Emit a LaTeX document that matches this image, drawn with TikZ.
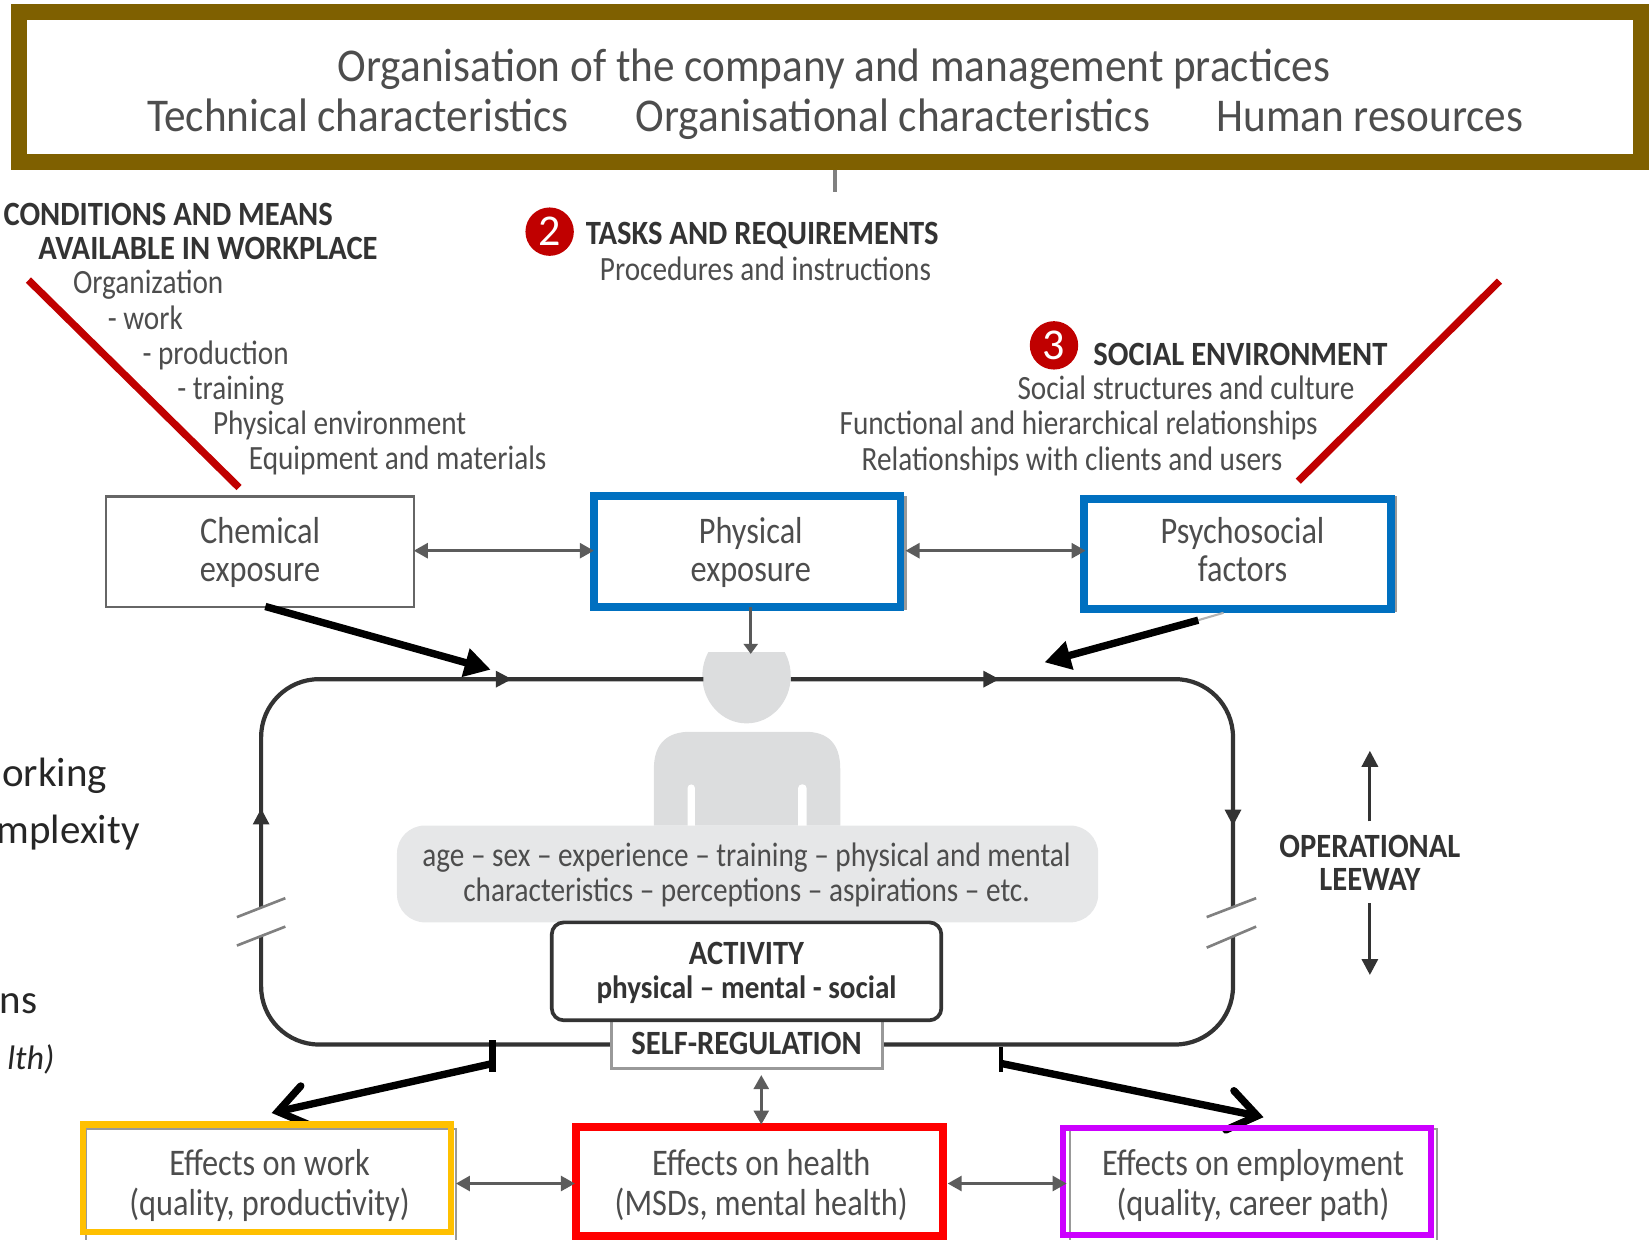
\documentclass[tikz,border=0pt]{standalone}
\usepackage{fontspec}
\setmainfont{Carlito}
\newfontfamily\cond[FakeStretch=0.86]{Carlito}
\newfontfamily\condb[FakeStretch=0.90]{Carlito Bold}
\newfontfamily\condt[FakeStretch=0.92]{Carlito}
\usetikzlibrary{arrows.meta,calc}
\definecolor{gold}{HTML}{7F6000}
\definecolor{darkred}{HTML}{C00000}
\definecolor{blu}{HTML}{0070C0}
\definecolor{orng}{HTML}{FFC000}
\definecolor{purp}{HTML}{CC00FF}
\definecolor{txt}{HTML}{4D4D4D}
\definecolor{hd}{HTML}{333333}
\definecolor{body}{HTML}{DCDDDE}
\definecolor{pill}{HTML}{E6E7E8}
\newcommand{\fs}[1]{\fontsize{#1}{#1}\selectfont}
\tikzset{
  x=0.5265pt,y=-0.5265pt,
  lw/.style={line width=#1*0.5265pt},
  big/.style={text=txt,font=\condt\fs{23.5},inner sep=0pt,anchor=base,yshift=-7.9pt},
  lab/.style={text=txt,font=\cond\fs{17},inner sep=0pt,anchor=base west,yshift=-5.3pt},
  labc/.style={text=txt,font=\cond\fs{17},inner sep=0pt,anchor=base,yshift=-5.3pt},
  hdw/.style={text=hd,font=\condb\fs{17},inner sep=0pt,anchor=base west,yshift=-5.8pt},
  hdc/.style={text=hd,font=\condb\fs{17},inner sep=0pt,anchor=base,yshift=-5.8pt},
  box/.style={text=txt,font=\cond\fs{18.8},inner sep=0pt,anchor=base,yshift=-6pt},
  under/.style={draw=gray!80,lw=2},
  dbl/.style={draw=hd!80,lw=2.5,{Triangle[length=7pt,width=7.5pt]}-{Triangle[length=7pt,width=7.5pt]}},
  flow/.style={draw=hd,lw=4},
  heavy/.style={draw=black,lw=7},
  num/.style={circle,fill=darkred,text=white,minimum size=24.2pt,inner sep=0pt,font=\fs{22}},
  crop/.style={text=black!85,font=\fs{20.5},inner sep=0pt,anchor=base east,yshift=-6.3pt},
  redline/.style={draw=darkred,lw=7},
}
\begin{document}
\begin{tikzpicture}
\useasboundingbox (0,0) rectangle (1568,1177);
\clip (0,0) rectangle (1568,1177);
% top frame
\node[draw=gold,lw=15,rectangle,minimum width=1541*0.5265pt,minimum height=142*0.5265pt,inner sep=0pt,outer sep=0pt] (org) at (788.25,82.5) {};
\node[big] (t1) at (792,62) {Organisation of the company and management practices};
\node[big] (t2) at (340,110) {Technical characteristics};
\node[big] (t3) at (848,110) {Organisational characteristics};
\node[big] (t4) at (1301,110) {Human resources};
\coordinate (stub) at (793,182);
\draw[draw=gray,lw=4] (793,161) -- (stub);
% left text
\node[hdw] (c1) at (3,203) {CONDITIONS AND MEANS};
\node[hdw] (c2) at (36,235) {AVAILABLE IN WORKPLACE};
\node[lab] (c3) at (69,269) {Organization};
\node[lab] (c4) at (102,303) {- work};
\node[lab] (c5) at (135,336) {- production};
\node[lab] (c6) at (168,369) {- training};
\node[lab] (c7) at (202,403) {Physical environment};
\node[lab] (c8) at (236,436) {Equipment and materials};
% tasks
\node[num] (n2) at (522,220) {2};
\node[hdw] (tk) at (556,221) {TASKS AND REQUIREMENTS};
\node[labc] (tk2) at (727,256) {Procedures and instructions};
% social
\node[num] (n3) at (1001,328) {3};
\node[hdw] (s1) at (1038,336) {SOCIAL ENVIRONMENT};
\node[lab] (s2) at (966,369) {Social structures and culture};
\node[lab] (s3) at (797,403) {Functional and hierarchical relationships};
\node[lab] (s4) at (818,437) {Relationships with clients and users};
% red lines
\coordinate (ra1) at (27,266); \coordinate (ra2) at (227,463);
\coordinate (rb1) at (1424,267); \coordinate (rb2) at (1233,457);
\draw[redline] (ra1) -- (ra2);
\draw[redline] (rb1) -- (rb2);
% cropped text
\node[crop] (k1) at (102,735) {orking};
\node[crop] (k2) at (133,789) {mplexity};
\node[crop] (k3) at (36,951) {ns};
\node[crop,font=\fs{17}\itshape,yshift=0.6pt] (k4) at (52,1005) {lth)};
% exposure boxes
\node[draw=gray!80!black,lw=2,minimum width=292*0.5265pt,minimum height=105*0.5265pt,inner sep=0pt,outer sep=0pt] (chem) at (247,524) {};
\node[box] (chem1) at (247,505) {Chemical};
\node[box] (chem2) at (247,541) {exposure};
\draw[under] (565,472) rectangle (860,578);
\draw[under] (1030,472) rectangle (1326,580);
\node[draw=blu,lw=7.5,minimum width=291.5*0.5265pt,minimum height=105.5*0.5265pt,inner sep=0pt,outer sep=0pt] (phys) at (709.5,523.5) {};
\node[box] (phys1) at (713,505) {Physical};
\node[box] (phys2) at (713,541) {exposure};
\node[draw=blu,lw=7.5,minimum width=291.5*0.5265pt,minimum height=104.5*0.5265pt,inner sep=0pt,outer sep=0pt] (psy) at (1175.5,526) {};
\node[box] (psy1) at (1180,505) {Psychosocial};
\node[box] (psy2) at (1180,541) {factors};
\coordinate (ca) at (393,523); \coordinate (cb) at (564,523);
\coordinate (pa) at (860,523); \coordinate (pb) at (1031,523);
\draw[dbl] (ca) -- (cb);
\draw[dbl] (pa) -- (pb);
% person
\begin{scope}
\clip (600,620) rectangle (820,700);
\fill[body] (709,642) ellipse (42 and 45);
\end{scope}
\fill[body] (621,784) -- (621,730) .. controls (621,705) and (635,695) .. (655,695) -- (765,695) .. controls (785,695) and (798,705) .. (798,730) -- (798,784) -- cycle;
\fill[white,rounded corners=1.8pt] (653,790) -- (653,745) -- (660,745) -- (660,790) -- cycle;
\fill[white,rounded corners=1.8pt] (758,790) -- (758,745) -- (766,745) -- (766,790) -- cycle;
% loop
\coordinate (la) at (248,862); \coordinate (lb) at (248,889);
\coordinate (ra) at (1171,862); \coordinate (rb) at (1171,889);
\draw[flow,rounded corners=29pt] (lb) -- (248,992) -- (1171,992) -- (rb);
\draw[flow,rounded corners=29pt] (la) -- (248,645) -- (668,645);
\draw[flow,rounded corners=29pt] (751,645) -- (1171,645) -- (ra);
\draw[gray,lw=2.5] (225,871) -- (271,853);
\draw[gray,lw=2.5] (225,898) -- (271,880);
\draw[gray,lw=2.5] (1146,871) -- (1193,853);
\draw[gray,lw=2.5] (1146,900) -- (1193,880);
\fill[hd] (471,637) -- (486,645) -- (471,653) -- cycle;
\fill[hd] (934,637) -- (949,645) -- (934,653) -- cycle;
\fill[hd] (240,783) -- (248,768) -- (256,783) -- cycle;
\fill[hd] (1163,769) -- (1171,784) -- (1179,769) -- cycle;
\coordinate (phead) at (713,621);
\draw[draw=gray!70!black,lw=2.5,-{Triangle[length=5pt,width=7pt]}] (phys.south -| phead) -- (phead);
% pill
\node[fill=pill,rounded corners=14pt,minimum width=666*0.5265pt,minimum height=92*0.5265pt,inner sep=0pt] (pl) at (710,830) {};
\node[labc] (pl1) at (709,813) {age – sex – experience – training – physical and mental};
\node[labc] (pl2) at (709,846) {characteristics – perceptions – aspirations – etc.};
% self regulation & activity
\node[draw=gray!80,fill=white,lw=2.5,minimum width=257*0.5265pt,minimum height=46*0.5265pt,inner sep=0pt] (sr) at (709.5,992) {};
\node[hdc] (sr1) at (709,990) {SELF-REGULATION};
\node[draw=hd,fill=white,lw=3.5,rounded corners=6pt,minimum width=370*0.5265pt,minimum height=93*0.5265pt,inner sep=0pt] (act) at (709,922.5) {};
\node[hdc] (act1) at (709,905) {ACTIVITY};
\node[hdc,font=\condb\fs{16.2}] (act2) at (709,937) {physical – mental - social};
% heavy arrows
\coordinate (ha1) at (252,576); \coordinate (ha2) at (466,636);
\coordinate (hb1) at (1138,589); \coordinate (hb2) at (992,629);
\draw[draw=gray!60,lw=2] (hb1) -- (1162,582);
\draw[heavy,-{Stealth[length=13pt,width=14pt,inset=0pt]}] (ha1) -- (ha2);
\draw[heavy,-{Stealth[length=13pt,width=14pt,inset=0pt]}] (hb1) -- (hb2);
\coordinate (hc0) at (468,988); \coordinate (hc1) at (468,1018); \coordinate (hc2) at (468,1010); \coordinate (hc3) at (258,1057);
\coordinate (hd0) at (951,994); \coordinate (hd1) at (951,1018); \coordinate (hd2) at (951,1010); \coordinate (hd3) at (1200,1061);
\draw[draw=black,lw=7] (hc0) -- (hc1);
\draw[draw=black,lw=4] (hd0) -- (hd1);
\draw[heavy,-{Straight Barb[length=14pt,width=20pt,line cap=round]}] (hc2) -- (hc3);
\draw[heavy,-{Straight Barb[length=14pt,width=20pt,line cap=round]}] (hd2) -- (hd3);
% leeway
\node[hdc] (ol1) at (1301,803) {OPERATIONAL};
\node[hdc] (ol2) at (1301,835) {LEEWAY};
\coordinate (oa1) at (1301,780); \coordinate (oa2) at (1301,713);
\coordinate (ob1) at (1301,858); \coordinate (ob2) at (1301,926);
\draw[draw=hd,lw=3,-{Triangle[length=8pt,width=8pt]}] (oa1) -- (oa2);
\draw[draw=hd,lw=3,-{Triangle[length=8pt,width=8pt]}] (ob1) -- (ob2);
% effects
\draw[under] (82,1072) rectangle (433,1190);
\draw[under] (548,1072) rectangle (895,1190);
\draw[under] (1016,1072) rectangle (1365,1190);
\node[draw=orng,lw=6,minimum width=349*0.5265pt,minimum height=102*0.5265pt,inner sep=0pt,outer sep=0pt] (ew) at (253.5,1119) {};
\node[draw=red,lw=7.5,minimum width=348.5*0.5265pt,minimum height=103*0.5265pt,inner sep=0pt,outer sep=0pt] (eh) at (721,1122) {};
\node[draw=purp,lw=5.5,minimum width=349.5*0.5265pt,minimum height=102*0.5265pt,inner sep=0pt,outer sep=0pt] (ee) at (1184.5,1122) {};
\node[box] (ew1) at (256,1105) {Effects on work};
\node[box] (ew2) at (256,1143) {(quality, productivity)};
\node[box] (eh1) at (723,1105) {Effects on health};
\node[box] (eh2) at (723,1143) {(MSDs, mental health)};
\node[box] (ee1) at (1190,1105) {Effects on employment};
\node[box] (ee2) at (1190,1143) {(quality, career path)};
\coordinate (ea) at (433,1124); \coordinate (eb) at (546,1124);
\coordinate (ec) at (900,1124); \coordinate (ed) at (1013,1124);
\coordinate (ef) at (723,1021); \coordinate (eg) at (723,1068);
\draw[dbl] (ea) -- (eb);
\draw[dbl] (ec) -- (ed);
\draw[dbl] (ef) -- (eg);
\end{tikzpicture}
\end{document}
